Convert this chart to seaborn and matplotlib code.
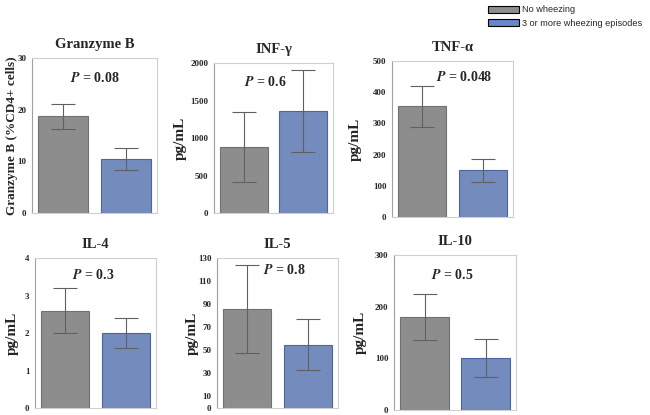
import pandas as pd
import seaborn as sns
import matplotlib
import matplotlib.pyplot as plt
from matplotlib.patches import Patch
matplotlib.use('Agg')

# Values
groups = ["No wheezing", "3 or more wheezing episodes"]
titles = ["Granzyme B", "INF-\u03b3", "TNF-\u03b1", "IL-4", "IL-5", "IL-10"]
ylabels = ["Granzyme B (%CD4+ cells)", "pg/mL", "pg/mL", "pg/mL", "pg/mL", "pg/mL"]
p_values = ["0.08", "0.6", "0.048", "0.3", "0.8", "0.5"]
no_wheeze = [18.7, 880, 355, 2.6, 86, 180]
wheeze = [10.5, 1360, 150, 2.0, 55, 100]
no_wheeze_err = [2.4, 465, 65, 0.6, 38, 45]
wheeze_err = [2.1, 545, 37, 0.4, 22, 37]
y_max = [30, 2000, 500, 4, 130, 300]
y_ticks = [
    [0, 10, 20, 30],
    [0, 500, 1000, 1500, 2000],
    [0, 100, 200, 300, 400, 500],
    [0, 1, 2, 3, 4],
    [0, 10, 30, 50, 70, 90, 110, 130],
    [0, 100, 200, 300],
]

colors = ["#8d8d8d", "#6886c9"]
edges = ["#707070", "#4d64a0"]

# axes boxes in pixels: left, top, right, bottom
boxes = [
    (32, 58, 157, 213),
    (214, 63, 333, 213),
    (392, 61, 513, 217),
    (35, 258, 156, 408),
    (217, 258, 338, 408),
    (394, 255, 516, 410),
]
# p-value text position (axes fraction)
p_pos = [(0.5, 0.87), (0.43, 0.87), (0.6, 0.9), (0.48, 0.89), (0.56, 0.92), (0.48, 0.87)]
# y label x position in figure pixels
ylab_x = [12, 180, 355, 12, 192, 360]

W, H = 650, 415
sns.set_style("white")
plt.rcParams['font.family'] = ['Liberation Serif', 'DejaVu Serif']
plt.rcParams['mathtext.fontset'] = 'stix'

fig = plt.figure(figsize=(W / 100, H / 100), dpi=100)

for i in range(6):
    l, t, r, b = boxes[i]
    ax = fig.add_axes([l / W, 1 - b / H, (r - l) / W, (b - t) / H])
    df = pd.DataFrame({"group": groups, "value": [no_wheeze[i], wheeze[i]]})
    sns.barplot(data=df, x="group", y="value", hue="group", palette=colors,
                errorbar=None, width=0.8, legend=False, ax=ax)
    for patch, ec in zip(ax.patches, edges):
        patch.set_edgecolor(ec)
        patch.set_linewidth(0.8)
    ax.errorbar([0, 1], [no_wheeze[i], wheeze[i]],
                yerr=[no_wheeze_err[i], wheeze_err[i]],
                fmt="none", ecolor="#606060", elinewidth=0.8, capsize=8.5, capthick=0.8)
    ax.set_ylim(0, y_max[i])
    ax.set_xlim(-0.5, 1.5)
    ax.set_yticks(y_ticks[i])
    ax.set_yticklabels([str(v) for v in y_ticks[i]], fontsize=6.5, fontweight="bold")
    ax.set_xticks([])
    ax.set_xlabel("")
    ax.set_ylabel("")
    ax.tick_params(axis="y", length=0, pad=4)
    for side in ["top", "right", "bottom"]:
        ax.spines[side].set_color("#cfcfcf")
        ax.spines[side].set_linewidth(0.8)
    ax.spines["left"].set_color("#a0a0a0")
    ax.spines["left"].set_linewidth(0.8)
    ax.set_title(titles[i], fontsize=10.5, fontweight="bold", pad=7)
    ax.text(p_pos[i][0], p_pos[i][1], r"$\mathbfit{P}$ = " + p_values[i],
            transform=ax.transAxes, ha="center", va="center",
            fontsize=10, fontweight="bold")
    fig.text(ylab_x[i] / W, 1 - ((t + b) / 2) / H, ylabels[i], rotation=90,
             ha="center", va="center", fontsize=9.5 if i == 0 else 11,
             fontweight="bold")

handles = [Patch(facecolor=c, edgecolor="black", linewidth=0.8) for c in colors]
fig.legend(handles, groups, loc="upper left", bbox_to_anchor=(482 / W, 1.0),
           frameon=False, handlelength=3.4, handleheight=0.9, handletextpad=0.35,
           labelspacing=0.45, borderpad=0.1,
           prop={"family": "Liberation Sans", "size": 6.6})

fig.savefig("out.png", dpi=100)
